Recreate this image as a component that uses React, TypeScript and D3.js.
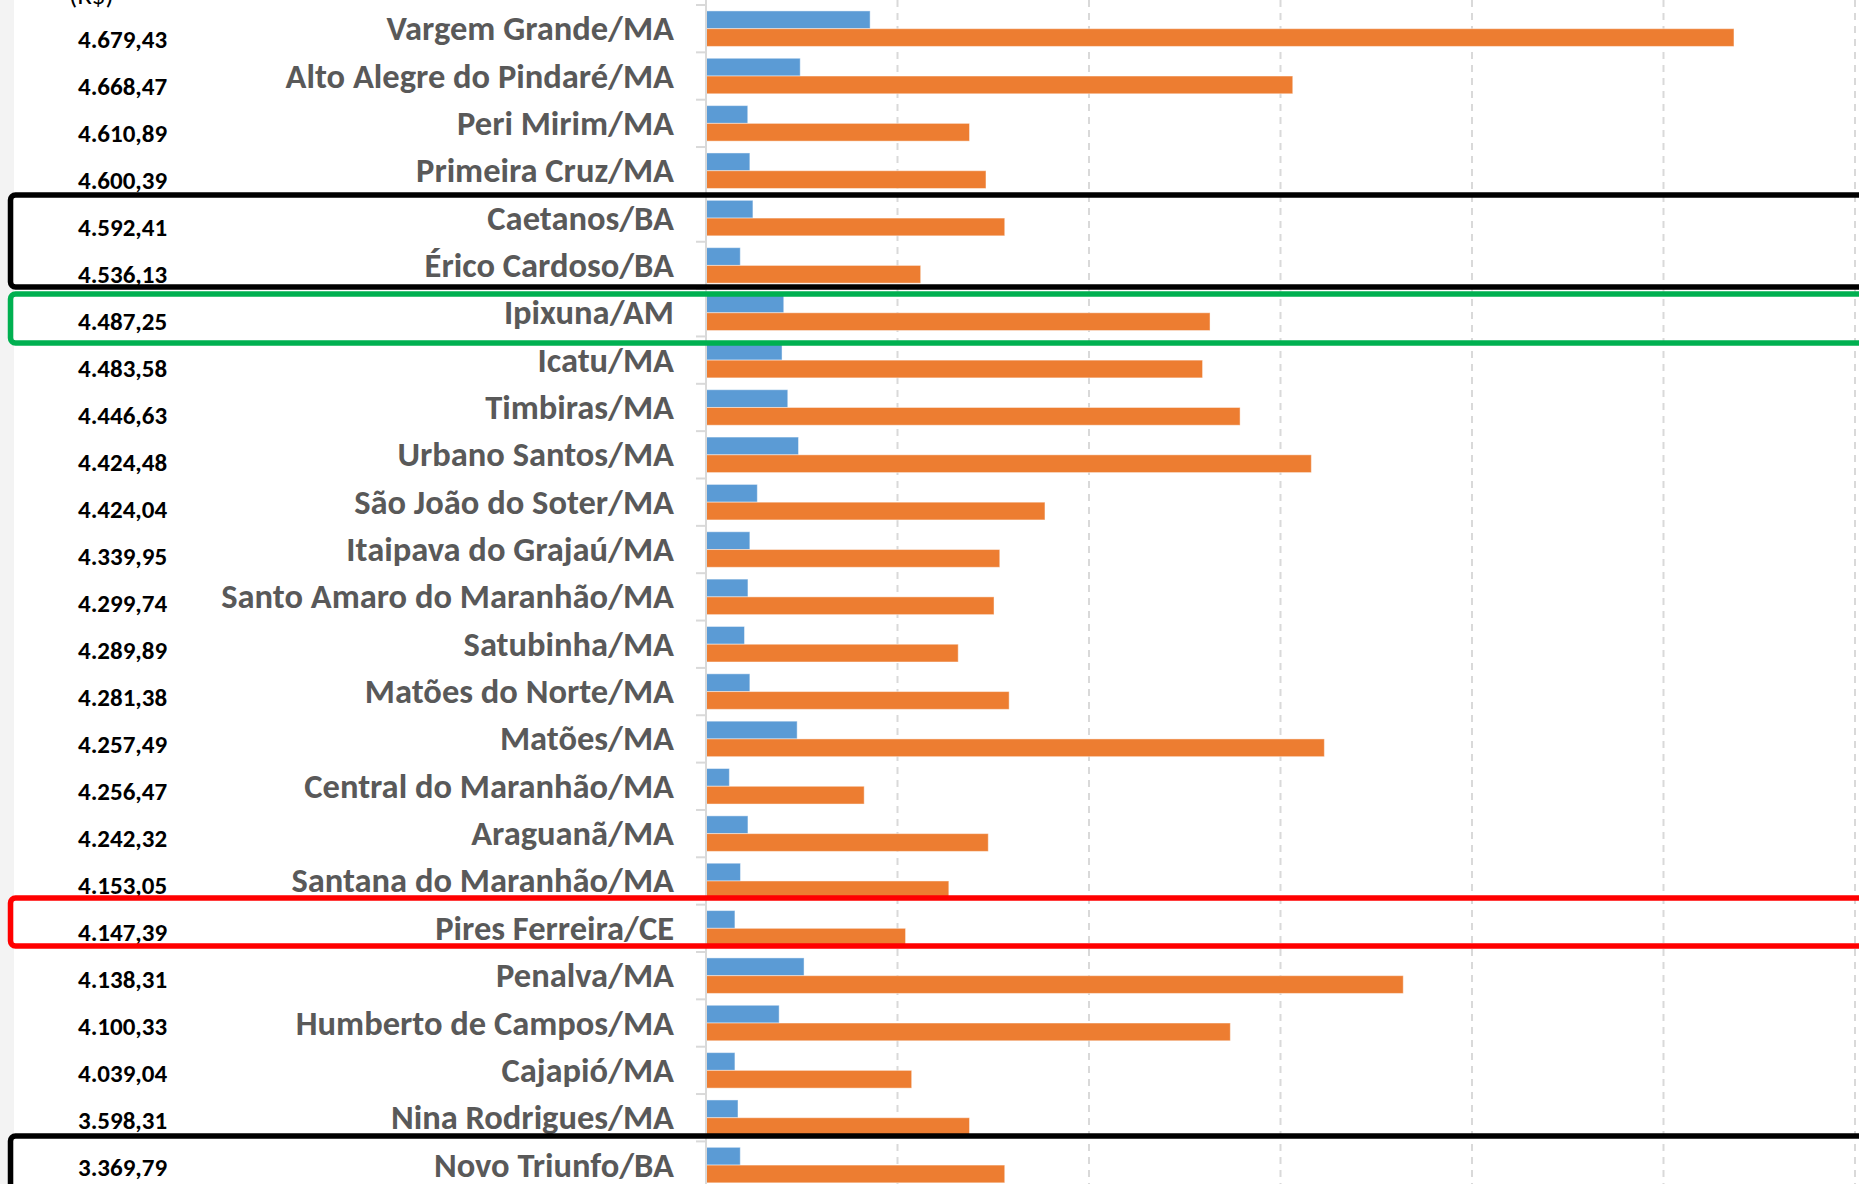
import React from "react";
import * as d3 from "d3";

// municípios ordenados pela renda (R$)
const municipios = [
  "Vargem Grande/MA",
  "Alto Alegre do Pindaré/MA",
  "Peri Mirim/MA",
  "Primeira Cruz/MA",
  "Caetanos/BA",
  "Érico Cardoso/BA",
  "Ipixuna/AM",
  "Icatu/MA",
  "Timbiras/MA",
  "Urbano Santos/MA",
  "São João do Soter/MA",
  "Itaipava do Grajaú/MA",
  "Santo Amaro do Maranhão/MA",
  "Satubinha/MA",
  "Matões do Norte/MA",
  "Matões/MA",
  "Central do Maranhão/MA",
  "Araguanã/MA",
  "Santana do Maranhão/MA",
  "Pires Ferreira/CE",
  "Penalva/MA",
  "Humberto de Campos/MA",
  "Cajapió/MA",
  "Nina Rodrigues/MA",
  "Novo Triunfo/BA",
];

const renda = [
  4679.43, 4668.47, 4610.89, 4600.39, 4592.41, 4536.13, 4487.25, 4483.58, 4446.63, 4424.48, 4424.04, 4339.95,
  4299.74, 4289.89, 4281.38, 4257.49, 4256.47, 4242.32, 4153.05, 4147.39, 4138.31, 4100.33, 4039.04, 3598.31,
  3369.79,
];

// serie azul / serie laranja
const serieA = [
  8570, 4920, 2180, 2290, 2450, 1790, 4060, 3970, 4270, 4830, 2680, 2290, 2190, 2010, 2290, 4760, 1220, 2190, 1800,
  1510, 5120, 3820, 1510, 1670, 1790,
];
const serieB = [
  53680, 30640, 13760, 14620, 15600, 11210, 26320, 25930, 27890, 31610, 17700, 15340, 15040, 13170, 15830, 32290,
  8260, 14740, 12680, 10420, 36410, 27380, 10740, 13760, 15600,
];

const xTicks = [10000, 20000, 30000, 40000, 50000, 60000];

// caixas de destaque
const destaques = [
  { de: "Caetanos/BA", ate: "Érico Cardoso/BA", cor: "#000000" },
  { de: "Ipixuna/AM", ate: "Ipixuna/AM", cor: "#00B050" },
  { de: "Pires Ferreira/CE", ate: "Pires Ferreira/CE", cor: "#FF0000" },
  { de: "Novo Triunfo/BA", ate: "Novo Triunfo/BA", cor: "#000000" },
];

const W = 1859;
const H = 1184;
const font = "Carlito, Lato, 'Open Sans', sans-serif";

const ptBR = d3.formatLocale({ decimal: ",", thousands: ".", grouping: [3], currency: ["R$", ""] });
const fmt = ptBR.format(",.2f");

export default function App() {
  const x = d3.scaleLinear().domain([0, 60000]).range([706, 1855]);
  const y = d3.scaleBand<string>().domain(municipios).range([5, 5 + 47.35 * municipios.length]);
  const bw = y.bandwidth();
  const pad = bw * 0.125;
  const barH = (bw - 2 * pad) / 2;

  // coluna da tabela de renda (espaçamento próprio)
  const yRenda = d3.scaleLinear().domain([0, municipios.length - 1]).range([48.3, 48.3 + 47 * (municipios.length - 1)]);

  // ajustes finos das caixas desenhadas à mão (topo, base)
  const boxNudge = [
    [0.6, -2],
    [5, 6.5],
    [-6.6, -6],
    [-5.4, 12],
  ];

  return (
    <svg width={W} height={H} style={{ position: "absolute", left: 0, top: 0, background: "#fff" }}>
      <rect x={0} y={0} width={14} height={H} fill="#f3f3f3" />

      {/* grade */}
      {xTicks.map((t) => (
        <line key={t} x1={x(t)} x2={x(t)} y1={0} y2={H} stroke="#d9d9d9" strokeWidth={2} strokeDasharray="7,6" />
      ))}

      {/* barras */}
      {municipios.map((m, i) => {
        const y0 = (y(m) as number) + pad;
        return (
          <g key={m}>
            <rect x={x(0)} y={y0} width={x(serieA[i]) - x(0)} height={barH} fill="#5B9BD5" stroke="#ffffff" strokeOpacity={0.45} strokeWidth={1} />
            <rect x={x(0)} y={y0 + barH} width={x(serieB[i]) - x(0)} height={barH} fill="#ED7D31" stroke="#ffffff" strokeOpacity={0.45} strokeWidth={1} />
          </g>
        );
      })}

      {/* eixo */}
      <line x1={x(0)} x2={x(0)} y1={0} y2={H} stroke="#d9d9d9" strokeWidth={2} />
      {municipios.map((m) => (
        <line key={m} x1={x(0) - 10} x2={x(0)} y1={y(m)} y2={y(m)} stroke="#d9d9d9" strokeWidth={2} />
      ))}

      {/* rótulos */}
      {municipios.map((m) => (
        <text
          key={m}
          x={674}
          y={(y(m) as number) + bw / 2 + 11.5}
          textAnchor="end"
          fontFamily={font}
          fontWeight="bold"
          fontSize={34.5}
          fill="#595959"
        >
          {m}
        </text>
      ))}

      <text x={69} y={4} fontFamily={font} fontSize={27} fill="#000">
        (R$)
      </text>
      {renda.map((v, i) => (
        <text key={i} x={78} y={yRenda(i)} fontFamily={font} fontWeight="bold" fontSize={25} fill="#000">
          {fmt(v)}
        </text>
      ))}

      {/* destaques */}
      {destaques.map((d, k) => {
        const top = (y(d.de) as number) + boxNudge[k][0];
        const bot = (y(d.ate) as number) + bw + boxNudge[k][1];
        return (
          <rect key={k} x={10.5} y={top} width={W + 20} height={bot - top} rx={5} fill="none" stroke={d.cor} strokeWidth={5.5} />
        );
      })}
    </svg>
  );
}
